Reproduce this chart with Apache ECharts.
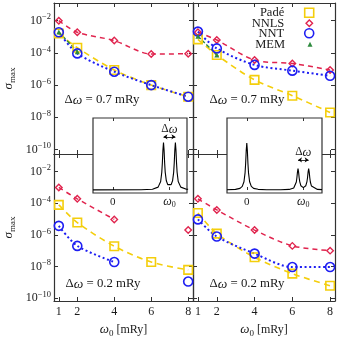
<!DOCTYPE html>
<html><head><meta charset="utf-8">
<script src="https://cdn.jsdelivr.net/npm/echarts@6/dist/echarts.min.js"></script>
<style>html,body{margin:0;padding:0;background:#fff}#c{width:339px;height:339px}</style>
</head><body><div id="c"></div>
<script>
// ---------- data ----------
const omega0 = [1, 2, 4, 6, 8];          // ω0 [mRy]
const xTicks = [1, 2, 4, 6, 8];
const yTickExp = [-10, -8, -6, -4, -2];  // decades labelled 10^n
const seriesNames = ['Padé', 'NNLS', 'NNT', 'MEM'];
const panelLabels = ['Δ{i|ω} = 0.7 mRy', 'Δ{i|ω} = 0.7 mRy', 'Δ{i|ω} = 0.2 mRy', 'Δ{i|ω} = 0.2 mRy'];

// top-left  (Δω = 0.7 mRy)
const padeTL = [1.6e-3, 2.1e-4, 8.7e-6, 1.0e-6, 1.9e-7];
const nnlsTL = [1.0e-2, 1.9e-3, 5.8e-4, 8.5e-5, 8.9e-5];
const nntTL  = [1.9e-3, 9.3e-5, 6.8e-6, 1.0e-6, 1.9e-7];
const memTL  = [2.0e-3, 1.2e-4, null, null, null];
// top-right (Δω = 0.7 mRy)
const padeTR = [6.9e-4, 7.4e-5, 2.1e-6, 2.2e-7, 2.0e-8];
const nnlsTR = [1.9e-3, 6.3e-4, 3.6e-5, 2.2e-5, 8.7e-6];
const nntTR  = [2.1e-3, 1.9e-4, 1.8e-5, 7.9e-6, 3.8e-6];
const memTR  = [1.1e-3, 7.4e-5, null, null, null];
// bottom-left (Δω = 0.2 mRy)
const padeBL = [7.9e-5, 6.0e-6, 1.9e-7, 1.9e-8, 6.0e-9];
const nnlsBL = [1.0e-3, 1.9e-4, 9.5e-6, null, 2.0e-6];
const nntBL  = [3.7e-6, 2.0e-7, 1.9e-8, null, 1.1e-9];
// bottom-right (Δω = 0.2 mRy)
const padeBR = [2.4e-5, 1.2e-6, 3.8e-8, 3.5e-9, 6.0e-10];
const nnlsBR = [1.9e-4, 3.8e-5, 2.0e-6, 2.0e-7, 1.0e-7];
const nntBR  = [9.5e-6, 7.8e-7, 6.5e-8, 9.1e-9, 9.1e-9];

// inset spectra (schematic): x in units of ω0, y relative height
const insetTLx = [-0.35, 0.5, 0.7, 0.8, 0.845, 0.865, 0.875, 0.885, 0.895, 0.905, 0.915, 0.925, 0.945, 0.97, 1.0, 1.03, 1.055, 1.075, 1.085, 1.095, 1.105, 1.115, 1.125, 1.135, 1.155, 1.2, 1.3, 1.33];
const insetTLy = [0.003, 0.006, 0.017, 0.061, 0.18, 0.38, 0.58, 0.85, 1.01, 0.85, 0.58, 0.38, 0.195, 0.114, 0.092, 0.114, 0.195, 0.38, 0.58, 0.85, 1.01, 0.85, 0.58, 0.38, 0.18, 0.061, 0.017, 0.015];
const insetTRx = [-0.35, -0.2, -0.12, -0.08, -0.05, -0.03, -0.02, -0.01, 0, 0.01, 0.02, 0.03, 0.05, 0.08, 0.12, 0.2, 0.35, 0.6, 0.75, 0.83, 0.856, 0.876, 0.886, 0.896, 0.906, 0.916, 0.926, 0.936, 0.956, 0.98, 1.0, 1.02, 1.044, 1.064, 1.074, 1.084, 1.094, 1.104, 1.114, 1.124, 1.144, 1.17, 1.25, 1.33];
const insetTRy = [0.004, 0.013, 0.035, 0.076, 0.175, 0.37, 0.57, 0.84, 1.0, 0.84, 0.57, 0.37, 0.175, 0.076, 0.035, 0.014, 0.005, 0.006, 0.012, 0.042, 0.083, 0.17, 0.26, 0.38, 0.457, 0.38, 0.26, 0.18, 0.091, 0.058, 0.051, 0.058, 0.091, 0.18, 0.26, 0.38, 0.457, 0.38, 0.26, 0.17, 0.083, 0.042, 0.012, 0.007];
const insetTicks = [0, 1];
const dwTL = [0.895, 1.105, 1.13];  // arrow start, end, height
const dwTR = [0.906, 1.094, 0.64];

// ---------- styling ----------
const FF = '"Liberation Serif", "DejaVu Serif", serif';
const TXT = '#1a1a1a';
const AX = '#333';
const COL = { 'Padé': '#F4CE0C', 'NNLS': '#E0244E', 'NNT': '#1E1EF2', 'MEM': '#2E8B3E' };
const STY = {
  'Padé': { symbol: 'rect', size: 8.5, bw: 1.6, fill: 'rgba(255,255,255,0)', dash: [6, 4.5], lw: 1.6 },
  'NNLS': { symbol: 'diamond', size: 6.5, bw: 1.4, fill: 'rgba(255,255,255,0)', dash: [5, 4], lw: 1.5 },
  'NNT':  { symbol: 'circle', size: 9, bw: 1.6, fill: 'rgba(255,255,255,0)', dash: [2, 2.6], lw: 2 },
  'MEM':  { symbol: 'triangle', size: 5, bw: 0, fill: '#2E8B3E', dash: [4, 2], lw: 1.4 }
};

const grids = [
  { left: 50, top: 3, width: 143, height: 151 },
  { left: 193, top: 3, width: 142, height: 151 },
  { left: 50, top: 154, width: 143, height: 150 },
  { left: 193, top: 154, width: 142, height: 150 },
  { left: 93, top: 118, width: 94, height: 75, show: true, backgroundColor: '#fff', borderColor: AX, borderWidth: 1.2, z: 10 },
  { left: 227, top: 118, width: 95, height: 75, show: true, backgroundColor: '#fff', borderColor: AX, borderWidth: 1.2, z: 10 }
];
const yRanges = [[-10.28, -0.9], [-10.28, -0.9], [-10.19, -0.88], [-10.19, -0.88]];

const supRich = {
  sup: { fontFamily: FF, fontSize: 8.5, lineHeight: 10, verticalAlign: 'top', color: TXT },
  s: { fontFamily: FF, fontSize: 9, lineHeight: 10, verticalAlign: 'bottom', color: TXT },
  i: { fontFamily: FF, fontSize: 13, fontStyle: 'italic', color: TXT }
};

const xAxes = [], yAxes = [];
for (let g = 0; g < 4; g++) {
  const bottomRow = g >= 2;
  ['bottom', 'top'].forEach((pos, k) => {
    xAxes.push({
      type: 'value', gridIndex: g, position: pos, min: 0.74, max: 8.26,
      axisLine: { show: true, onZero: false, lineStyle: { color: AX, width: 1.2 } },
      axisTick: { show: true, inside: true, length: 4, customValues: xTicks, lineStyle: { color: AX, width: 1 } },
      axisLabel: { show: bottomRow && k === 0, customValues: xTicks, margin: 5, fontFamily: FF, fontSize: 12, color: TXT },
      splitLine: { show: false },
      name: bottomRow && k === 0 ? '{i|ω}{s|0} [mRy]' : '',
      nameLocation: 'middle', nameGap: 21,
      nameTextStyle: { fontFamily: FF, fontSize: 12, color: TXT, lineHeight: 16, rich: supRich }
    });
  });
  ['left', 'right'].forEach((pos, k) => {
    const leftCol = g % 2 === 0;
    yAxes.push({
      type: 'value', gridIndex: g, position: pos, min: yRanges[g][0], max: yRanges[g][1],
      axisLine: { show: true, onZero: false, lineStyle: { color: AX, width: 1.2 } },
      axisTick: { show: true, inside: true, length: 4, customValues: yTickExp, lineStyle: { color: AX, width: 1 } },
      axisLabel: {
        show: leftCol && k === 0, customValues: yTickExp, margin: 3,
        fontFamily: FF, fontSize: 12, color: TXT, lineHeight: 16,
        formatter: v => '10{sup|−' + Math.round(-v) + '}', rich: supRich
      },
      splitLine: { show: false },
      name: leftCol && k === 0 ? '{i|σ}{s|max}' : '',
      nameLocation: 'middle', nameGap: 37,
      nameTextStyle: { fontFamily: FF, fontSize: 12, color: TXT, lineHeight: 16, rich: supRich }
    });
  });
}
// inset axes
[4, 5].forEach(g => {
  ['bottom', 'top'].forEach((pos, k) => {
    xAxes.push({
      type: 'value', gridIndex: g, position: pos, min: -0.35, max: g === 4 ? 1.31 : 1.33, z: 11,
      axisLine: { show: false },
      axisTick: { show: true, inside: true, length: 3, customValues: insetTicks, lineStyle: { color: AX, width: 1 } },
      axisLabel: {
        show: k === 0, customValues: insetTicks, margin: 2, fontFamily: FF, fontSize: 11, color: TXT, lineHeight: 14,
        formatter: v => v === 0 ? '0' : '{i|ω}{s|0}',
        rich: { i: { fontFamily: FF, fontSize: 12, fontStyle: 'italic', color: TXT }, s: { fontFamily: FF, fontSize: 8, lineHeight: 9, verticalAlign: 'bottom', color: TXT } }
      },
      splitLine: { show: false }
    });
  });
  yAxes.push({
    type: 'value', gridIndex: g, min: -0.064, max: 1.53, z: 11,
    axisLine: { show: false }, axisTick: { show: false }, axisLabel: { show: false }, splitLine: { show: false }
  });
});

function mk(name, vals, g) {
  const s = STY[name];
  return {
    type: 'line', name, xAxisIndex: 2 * g, yAxisIndex: 2 * g,
    data: omega0.map((x, i) => vals[i] == null ? [x, '-'] : [x, Math.log10(vals[i])]),
    smooth: 0.3, connectNulls: false,
    symbol: s.symbol, symbolSize: s.size, showSymbol: true,
    itemStyle: { color: s.fill, borderColor: COL[name], borderWidth: s.bw },
    lineStyle: { color: COL[name], width: s.lw, type: s.dash },
    emphasis: { disabled: true }, animation: false, z: 3
  };
}
const series = [
  mk('Padé', padeTL, 0), mk('NNLS', nnlsTL, 0), mk('NNT', nntTL, 0), mk('MEM', memTL, 0),
  mk('Padé', padeTR, 1), mk('NNLS', nnlsTR, 1), mk('NNT', nntTR, 1), mk('MEM', memTR, 1),
  mk('Padé', padeBL, 2), mk('NNLS', nnlsBL, 2), mk('NNT', nntBL, 2),
  mk('Padé', padeBR, 3), mk('NNLS', nnlsBR, 3), mk('NNT', nntBR, 3)
];
function inset(xs, ys, g, dw) {
  return {
    type: 'line', xAxisIndex: 8 + 2 * (g - 4), yAxisIndex: 8 + (g - 4), z: 12,
    data: xs.map((x, i) => [x, ys[i]]), symbol: 'none', smooth: false,
    lineStyle: { color: '#000', width: 1.1 }, animation: false, emphasis: { disabled: true },
    markLine: {
      silent: true, z: 13, symbol: ['arrow', 'arrow'], symbolSize: [4, 4], animation: false,
      lineStyle: { color: '#000', width: 0.8, type: 'solid' },
      label: {
        show: true, position: 'insideMiddleTop', distance: 1, formatter: 'Δ{i|ω}',
        fontFamily: FF, fontSize: 11.5, color: TXT,
        rich: { i: { fontFamily: FF, fontSize: 12.5, fontStyle: 'italic', color: TXT } }
      },
      data: [[{ coord: [dw[0], dw[2]] }, { coord: [dw[1], dw[2]] }]]
    }
  };
}
series.push(inset(insetTLx, insetTLy, 4, dwTL), inset(insetTRx, insetTRy, 5, dwTR));

// legend: one per entry so each icon can have its own size
const legRows = [12.7, 23.3, 33.3, 44.3];
const legend = seriesNames.map((n, i) => {
  const s = STY[n];
  const w = n === 'NNLS' ? 6.5 : (n === 'MEM' ? 5 : 9);
  return {
    data: [{ name: n, icon: s.symbol,
      itemStyle: { color: s.fill, borderColor: COL[n], borderWidth: s.bw } }],
    orient: 'horizontal', align: 'right', padding: 0, selectedMode: false,
    itemWidth: w, itemHeight: w,
    right: 339 - (310 + w / 2), top: legRows[i] - 7,
    textStyle: { fontFamily: FF, fontSize: 12.5, color: TXT, lineHeight: 14, padding: [0, 20 - w / 2, 0, 0] }
  };
});

const annPos = [[102, 100], [247, 100], [103, 284], [247, 284]];
const graphic = panelLabels.map((t, i) => ({
  type: 'text', x: annPos[i][0], y: annPos[i][1], z: 20, silent: true,
  style: {
    text: t, fontFamily: FF, fontSize: 12.8, fill: TXT, align: 'center', verticalAlign: 'middle',
    rich: { i: { fontFamily: FF, fontSize: 13.5, fontStyle: 'italic', fill: TXT } }
  }
}));

const chart = echarts.init(document.getElementById('c'), null, { renderer: 'canvas' });
chart.setOption({
  animation: false, backgroundColor: '#fff',
  grid: grids, xAxis: xAxes, yAxis: yAxes, series, legend, graphic
});
</script></body></html>
